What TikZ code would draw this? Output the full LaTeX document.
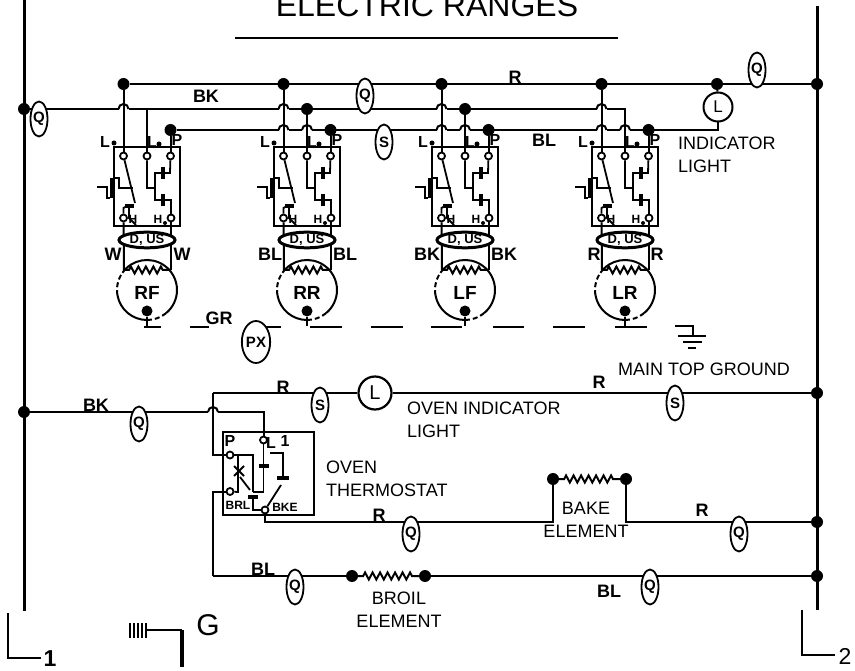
\documentclass[tikz,border=0pt]{standalone}
\usepackage{fontspec}
\setmainfont{Liberation Sans}
\usetikzlibrary{calc,shapes.geometric,decorations.pathmorphing}
\tikzset{
	wire/.style={line width=2pt},
	bus/.style={line width=3pt},
	part/.style={line width=1.8pt},
	bar/.style={line width=4pt},
	junction/.style={circle,fill=black,inner sep=0pt,minimum size=12pt},
	terminal/.style={circle,draw,fill=white,line width=1.8pt,inner sep=0pt,minimum size=7pt},
	badge/.style={ellipse,draw,fill=white,line width=1.8pt,inner sep=0pt,minimum width=17pt,minimum height=35pt,font=\bfseries\fontsize{15}{15}\selectfont},
	tag/.style={inner sep=0pt,font=\bfseries\fontsize{18}{18}\selectfont},
	small/.style={inner sep=0pt,font=\bfseries\fontsize{12}{12}\selectfont},
	pinmark/.style={inner sep=0pt,font=\bfseries\fontsize{16}{16}\selectfont},
	caption/.style={inner sep=0pt,align=left,font=\fontsize{18}{22.5}\selectfont},
	coil/.style={wire,decorate,decoration={zigzag,segment length=7.5pt,amplitude=3.5pt,pre length=5pt,post length=5pt}},
}
\newcommand{\wirehop}[2]{
	\fill[white] ($(#1 |- #2)+(-5,-2)$) rectangle ($(#1 |- #2)+(5,2)$);
	\draw[wire] ($(#1 |- #2)+(-5,0)$) arc (180:360:5);
}
\begin{document}
\begin{tikzpicture}[x=1pt,y=-1pt]
	\useasboundingbox (0,0) rectangle (855,671);
	\node (title) [inner sep=0pt,anchor=base,font=\fontsize{32}{32}\selectfont] at (427,17) {ELECTRIC RANGES};
	\coordinate (titlea) at (235,38);
	\coordinate (titleb) at (618,38);
	\draw [line width=2.4pt] (titlea) -- (titleb);

	\node (leftbk) [junction] at (24,109) {};
	\node (leftoven) [junction] at (24,412) {};
	\coordinate (lefttop) at (24,0);
	\coordinate (leftend) at (24,611);
	\node (rightr) [junction] at (817,84) {};
	\node (rightoven) [junction] at (817,393) {};
	\node (rightbake) [junction] at (817,522) {};
	\node (rightbroil) [junction] at (817,576) {};
	\coordinate (righttop) at (817,6);
	\coordinate (rightend) at (817,610);
	\draw [bus] (lefttop) -- (leftend);
	\draw [bus] (righttop) -- (rightend);

	\foreach \name/\ox/\wirename/\dx in {RF/0/W/11,RR/160/BL/14,LF/318/BK/15,LR/478/R/8} {
		\begin{scope}[xshift=\ox pt]
			\draw [wire] (113.5,147) rectangle (180,226);
			\node (\name-tl) [terminal] at (123.5,156) {};
			\node (\name-tm) [terminal] at (147,156) {};
			\node (\name-tr) [terminal] at (170.5,156) {};
			\node (\name-bl) [terminal] at (123.5,218) {};
			\node (\name-br) [terminal] at (171,218) {};
			\node (\name-top) [junction] at (123.5,84) {};
			\node (\name-blue) [junction] at (170.5,130) {};
			\coordinate (\name-bk) at (147,109);
			\coordinate (\name-hl) at (124,270);
			\coordinate (\name-hr) at (171,270);
			\draw [wire] (\name-blue) -- (\name-tr);
			\node (\name-l) [pinmark] at (105,142) {L};
			\node (\name-la) [circle,fill=black,inner sep=0pt,minimum size=5pt] at (114,143) {};
			\node (\name-lb) [pinmark] at (152,142) {L};
			\node (\name-lc) [circle,fill=black,inner sep=0pt,minimum size=5pt] at (159,144) {};
			\node (\name-p) [pinmark] at (177,140) {P};
			\draw [part] (\name-la) -- ++(0,5);
			\draw [part] (\name-lc) -- ++(0,4);
			\draw [part] (97,187) -- (107,187) -- (107,198) -- (110,198);
			\draw [bar] (112,178) -- (112,198);
			\draw [part] (114,178) -- (119,178) -- (119,188) -- (133,188);
			\draw [part] (\name-tl) -- (135,203);
			\draw [bar] (125,206) -- (134,206);
			\draw [part] (\name-bl) -- (123.5,208) -- (127,206);
			\draw [part] (129,208) -- (129,218) -- (136,225);
			\draw [part] (\name-tm) -- (147,188) -- (155,188) -- (155,173) -- (170,173) -- (\name-tr);
			\draw [part] (155,188) -- (155,200) -- (171,200) -- (\name-br);
			\draw [bar] (163,167) -- (163,179);
			\draw [bar] (163,194) -- (163,206);
			\node (\name-ha) [small] at (133,219) {H};
			\node (\name-hb) [small] at (158,219) {H};
			\node (\name-hc) [circle,fill=black,inner sep=0pt,minimum size=4pt] at (165,223) {};
			\draw [wire] (\name-bl) -- (\name-hl);
			\draw [wire] (\name-br) -- (\name-hr);
			\node (\name-sw) [ellipse,draw,fill=white,line width=3pt,inner sep=0pt,minimum width=56pt,minimum height=15pt,font=\bfseries\fontsize{13}{13}\selectfont] at (147,240) {D, US};
			\node (\name-wa) [tag] at ({124-\dx},254) {\wirename};
			\node (\name-wb) [tag] at ({171+\dx},254) {\wirename};
			\node (\name-c) [inner sep=0pt,font=\bfseries\fontsize{19}{19}\selectfont] at (147,293) {\name};
			\coordinate (\name-o) at (147,290);
			\draw [wire] ($(\name-o)+(0:30)$) arc (0:50:30);
			\draw [wire,dashed,dash pattern=on 5pt off 3pt] ($(\name-o)+(50:30)$) arc (50:90:30);
			\draw [wire] ($(\name-o)+(90:30)$) arc (90:170:30);
			\draw [wire,dashed,dash pattern=on 5pt off 3pt] ($(\name-o)+(170:30)$) arc (170:215:30);
			\draw [wire] ($(\name-o)+(215:30)$) arc (215:360:30);
			\draw [coil] (\name-hl) -- (\name-hr);
			\node (\name-g) [circle,fill=black,inner sep=0pt,minimum size=11pt] at (147,311) {};
			\coordinate (\name-ge) at (147,326);
			\draw [wire] (\name-g) -- (\name-ge);
		\end{scope}
	}

	\node (lamp) [circle,draw,fill=white,line width=2pt,inner sep=0pt,minimum size=29pt,font=\fontsize{17}{17}\selectfont] at (718,107) {L};
	\node (lampj) [junction] at (717,84) {};
	\coordinate (lampc) at (718,130);
	\draw [wire] (RF-top) -- (rightr);
	\draw [wire] (lampj) -- (lamp);
	\draw [wire] (leftbk) -- (LR-bk) -- (LR-tm);
	\draw [wire] (RF-blue) -- (lampc) -- (lamp);
	\foreach \name in {RF,RR,LF,LR} {
		\wirehop{\name-top}{leftbk}
	}
	\foreach \name in {RR,LF,LR} {
		\wirehop{\name-top}{lampc}
		\wirehop{\name-bk}{lampc}
	}
	\foreach \name in {RF,RR,LF,LR} {
		\draw [wire] (\name-top) -- (\name-tl);
	}
	\draw [wire] (RF-bk) -- (RF-tm);
	\draw [wire] (LR-bk) -- (LR-tm);
	\foreach \name in {RR,LF} {
		\node (\name-bkj) [junction] at (\name-bk) {};
		\draw [wire] (\name-bkj) -- (\name-tm);
	}
	\foreach \a/\b in {144/161,190/209,253/281,310/342,371/403,431/462,493/524,553/585,615/647} {
		\coordinate (dasha) at (\a,327);
		\coordinate (dashb) at (\b,327);
		\draw [wire] (dasha) -- (dashb);
	}
	\coordinate (gnda) at (675,326);
	\coordinate (gndb) at (693,326);
	\coordinate (gndc) at (693,336);
	\draw [wire] (gnda) -- (gndb) -- (gndc);
	\draw [wire] (678,336) -- (706,336);
	\draw [wire] (683,342) -- (702,342);
	\draw [wire] (688,348) -- (696,348);

	\node (tvbox) [inner sep=0pt] at (222.5,432) {};
	\coordinate (tvboxb) at (314,515);
	\draw [wire] (tvbox.center) rectangle (tvboxb);
	\node (tvl) [terminal] at (263.5,440) {};
	\node (tvp) [terminal] at (230,455) {};
	\node (tvbrl) [terminal] at (230,491.5) {};
	\node (tvbke) [terminal] at (265,510) {};
	\coordinate (ovena) at (213,393);
	\coordinate (ovenb) at (263.5,412);
	\coordinate (ovenc) at (213,455);
	\coordinate (ovend) at (213,491.5);
	\coordinate (ovene) at (213,576);
	\coordinate (ovenf) at (265,522);
	\node (oventext) [circle,draw,fill=white,line width=2.2pt,inner sep=0pt,minimum size=33pt,font=\fontsize{20}{20}\selectfont] at (375,393) {L};
	\draw [wire] (ovena) -- (oventext);
	\draw [wire] (oventext) -- (rightoven);
	\draw [wire] (leftoven) -- (ovenb) -- (tvl);
	\wirehop{ovena}{ovenb}
	\draw [wire] (ovena) -- (ovenc) -- (tvp);
	\draw [wire] (tvbrl) -- (ovend) -- (ovene);
	\draw [part] (tvp) -- (253,455) -- (253,492);
	\draw [part] (238,455) -- (238,492) -- (tvbrl);
	\draw [part] (tvl) -- (263.5,492) -- (253,492);
	\draw [bar] (258.5,466) -- (269,466);
	\draw [bar] (248,497) -- (258,497);
	\draw [part] (253,497) -- (253,510) -- (tvbke);
	\draw [part] (270,453) -- (283,453) -- (283,478);
	\draw [bar] (277,478) -- (289,478);
	\draw [part] (281,485) -- (tvbke);
	\draw [part] (240,477) -- (250,490);
	\draw [part] (234,476) -- (244,466);
	\draw [part] (234,466) -- (244,476);
	\node (tvlt) [pinmark] at (271,443) {L};
	\node (tvlo) [pinmark] at (285,441) {1};
	\node (tvpt) [pinmark] at (230,441) {P};
	\node (tvbrlt) [small] at (238,505) {BRL};
	\node (tvbket) [small] at (285,507) {BKE};

	\node (bakea) [junction] at (553,479) {};
	\node (bakeb) [junction] at (626,479) {};
	\coordinate (bakec) at (553,522);
	\coordinate (baked) at (626,522);
	\draw [wire] (tvbke) -- (ovenf) -- (bakec) -- (bakea);
	\draw [coil] (bakea) -- (bakeb);
	\draw [wire] (bakeb) -- (baked) -- (rightbake);
	\node (broila) [junction] at (352,576) {};
	\node (broilb) [junction] at (425,576) {};
	\draw [wire] (ovene) -- (broila);
	\draw [coil] (broila) -- (broilb);
	\draw [wire] (broilb) -- (rightbroil);

	\node (q1) [badge] at (39,119) {Q};
	\node (q2) [badge] at (365,96) {Q};
	\node (q3) [badge] at (757,70) {Q};
	\node (q4) [badge] at (139,424) {Q};
	\node (q5) [badge] at (411,534) {Q};
	\node (q6) [badge] at (739,534) {Q};
	\node (q7) [badge] at (295,587) {Q};
	\node (q8) [badge] at (650,587) {Q};
	\node (s1) [badge] at (384,142) {S};
	\node (s2) [badge] at (320,405) {S};
	\node (s3) [badge] at (675,403) {S};
	\node (px) [badge,minimum width=24pt,minimum height=42pt] at (256,342) {PX};

	\node (tbk) [tag] at (206,96) {BK};
	\node (tr) [tag] at (515,77) {R};
	\node (tbl) [tag] at (544,140) {BL};
	\node (tgr) [tag] at (219,318) {GR};
	\node (tr2) [tag] at (283,387) {R};
	\node (tr3) [tag] at (599,382) {R};
	\node (tbk2) [tag] at (96,405) {BK};
	\node (tr4) [tag] at (379,515) {R};
	\node (tr5) [tag] at (702,510) {R};
	\node (tbl2) [tag] at (263,569) {BL};
	\node (tbl3) [tag] at (609,591) {BL};

	\node (indicator) [caption,anchor=north west] at (678,137) {INDICATOR\\LIGHT};
	\node (maintop) [caption,anchor=base west] at (618,376) {MAIN TOP GROUND};
	\node (ovenlight) [caption,anchor=north west] at (407,402) {OVEN INDICATOR\\LIGHT};
	\node (ovenstat) [caption,anchor=north west] at (326,461) {OVEN\\THERMOSTAT};
	\node (bake) [caption,align=center,anchor=north] at (586,502) {BAKE\\ELEMENT};
	\node (broil) [caption,align=center,anchor=north] at (399,592) {BROIL\\ELEMENT};

	\coordinate (onea) at (8,613);
	\coordinate (oneb) at (8,658);
	\coordinate (onec) at (41,658);
	\draw [wire] (onea) -- (oneb) -- (onec);
	\node (one) [inner sep=0pt,font=\bfseries\fontsize{23}{23}\selectfont] at (50,659) {1};
	\coordinate (twoa) at (802,610);
	\coordinate (twob) at (802,655);
	\coordinate (twoc) at (835,655);
	\draw [wire] (twoa) -- (twob) -- (twoc);
	\node (two) [inner sep=0pt,font=\fontsize{23}{23}\selectfont] at (845,656) {2};

	\foreach \x in {130,134,138,142,146} {
		\draw [part] (\x,623) -- (\x,638);
	}
	\coordinate (grounda) at (146,630);
	\coordinate (groundb) at (182,630);
	\coordinate (groundc) at (182,667);
	\draw [line width=2.4pt] (grounda) -- (groundb);
	\draw [line width=4pt] (groundb) -- (groundc);
	\node (gee) [inner sep=0pt,font=\fontsize{30}{30}\selectfont] at (208,625) {G};
\end{tikzpicture}
\end{document}
